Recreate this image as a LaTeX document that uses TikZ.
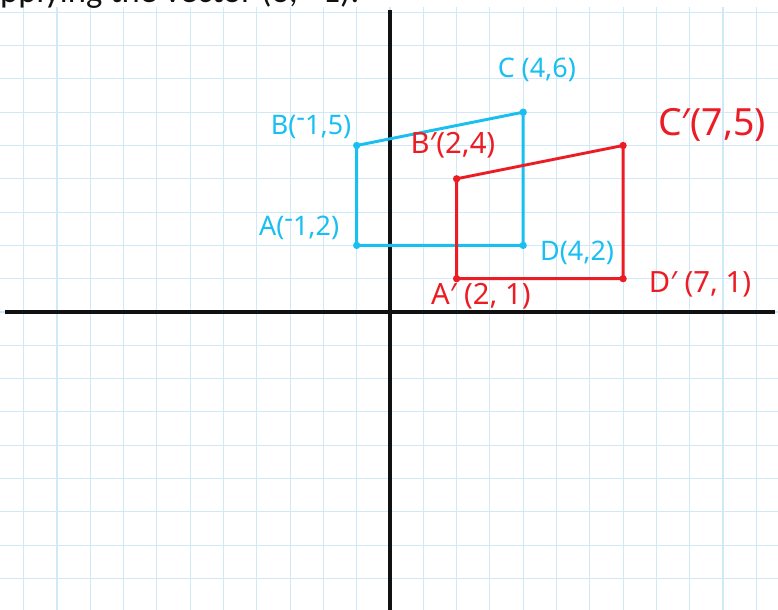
\documentclass[tikz,border=0pt]{standalone}
\usepackage{fontspec}
\setmainfont{Noto Sans}
\newfontfamily\notefont{Carlito}
\usetikzlibrary{positioning}
\definecolor{gridblue}{HTML}{CFE9F9}
\definecolor{penblue}{HTML}{18BFF0}
\definecolor{penred}{HTML}{EC1C24}
\definecolor{ink}{HTML}{111111}
\newcommand{\rminus}{\raisebox{0.3em}{-}}
\tikzset{
  gridline/.style={draw=gridblue,line width=0.9pt},
  axisline/.style={draw=ink,line width=3.4pt},
  blueshape/.style={draw=penblue,line width=2.5pt,line join=round},
  redshape/.style={draw=penred,line width=2.5pt,line join=round},
  bluedot/.style={circle,fill=penblue,inner sep=0pt,minimum size=0.22cm},
  reddot/.style={circle,fill=penred,inner sep=0pt,minimum size=0.22cm},
  bluelab/.style={text=penblue,inner sep=0pt,
                  font=\fontsize{23}{23}\selectfont},
  redlab/.style={text=penred,inner sep=0pt,
                 font=\fontsize{25}{25}\selectfont}
}

\begin{document}
\begin{tikzpicture}[x=1cm,y=1cm]
    \useasboundingbox (-11.712,-8.949) rectangle (11.652,9.369);
    \clip (-11.712,-8.949) rectangle (11.652,9.369);
    % grid paper
    \foreach \gx in {-11,...,11}
      \draw[gridline] (\gx,-8.949) -- (\gx,9.16);
    \foreach \gy in {-8,...,9}
      \draw[gridline] (-11.712,\gy) -- (11.652,\gy);

    \node[anchor=base west,inner sep=0pt,text=ink,
          font=\notefont\fontsize{29.5}{30}\selectfont] (heading)
      at (-12.21,9.28) {applying the vector (3, −1).};

    % axes
    \coordinate (ytop) at (0,9.07);
    \coordinate (ybot) at (0,-8.949);
    \coordinate (xleft) at (-11.56,0);
    \coordinate (xright) at (11.56,0);
    \draw[axisline] (ybot) -- (ytop);
    \draw[axisline] (xleft) -- (xright);

    % original quadrilateral
    \node[bluedot] (A) at (-1,2) {};
    \node[bluedot] (B) at (-1,5) {};
    \node[bluedot] (C) at (4,6) {};
    \node[bluedot] (D) at (4,2) {};
    \draw[blueshape] (A.center) -- (B.center) -- (C.center)
      -- (D.center) -- cycle;

    % image after the translation
    \node[reddot] (Ap) at (2,1) {};
    \node[reddot] (Bp) at (2,4) {};
    \node[reddot] (Cp) at (7,5) {};
    \node[reddot] (Dp) at (7,1) {};
    \draw[redshape] (Ap.center) -- (Bp.center) -- (Cp.center)
      -- (Dp.center) -- cycle;

    \node[bluelab] (labC) at (4.41,7.27) {C (4,6)};
    \node[bluelab] (labB) at (-2.37,5.56) {B(\rminus1,5)};
    \node[bluelab] (labA) at (-2.73,2.52) {A(\rminus1,2)};
    \node[bluelab] (labD) at (5.62,1.77) {D(4,2)};
    \node[redlab] (labBp) at (1.89,5.02) {B′(2,4)};
    \node[redlab,font=\fontsize{32}{32}\selectfont] (labCp)
      at (9.67,5.62) {C′(7,5)};
    \node[redlab] (labAp) at (2.73,0.48) {A′ (2, 1)};
    \node[redlab] (labDp) at (9.31,0.84) {D′ (7, 1)};
  \end{tikzpicture}
\end{document}
